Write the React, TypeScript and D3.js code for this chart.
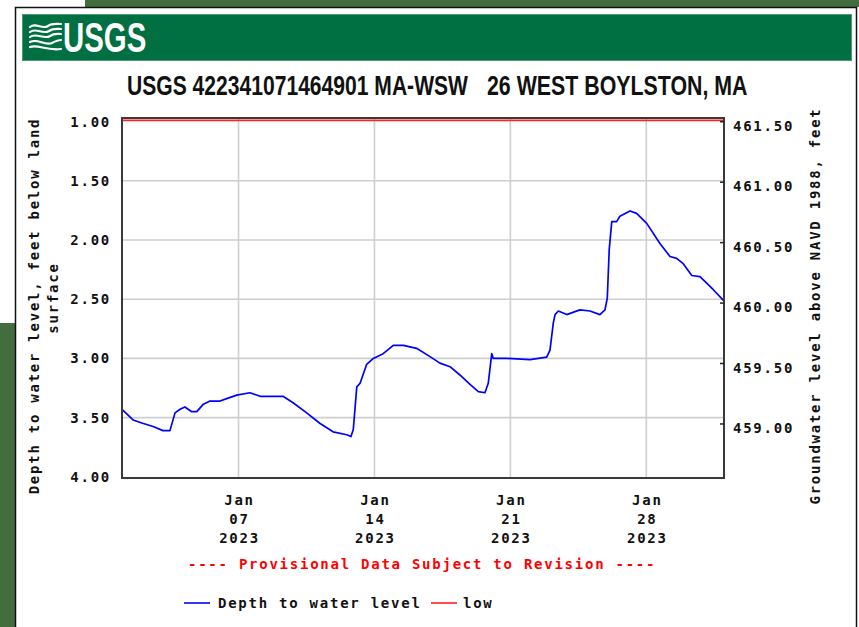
import React from 'react';
import * as d3 from 'd3';

// ---- data ----
const dayOffsets = [
  0.0, 0.57, 1.1, 1.6, 2.11, 2.47, 2.73, 2.99, 3.24, 3.59, 3.85, 4.17, 4.53, 5.05, 5.39, 5.91,
  6.59, 7.11, 8.29, 8.81, 9.51, 10.2, 10.87, 11.57, 11.79, 11.91, 12.09, 12.26, 12.6, 12.94,
  13.45, 13.97, 14.49, 15.17, 15.86, 16.37, 16.89, 17.4, 17.92, 18.35, 18.69, 18.86, 19.04,
  19.12, 19.81, 21.01, 21.87, 22.04, 22.21, 22.3, 22.47, 22.9, 23.58, 24.1, 24.61, 24.87,
  24.99, 25.09, 25.22, 25.47, 25.64, 26.16, 26.5, 27.02, 27.7, 28.22, 28.56, 28.9, 29.34,
  29.76, 30.11, 30.45, 30.97,
];
const depthValues = [
  3.43, 3.52, 3.55, 3.575, 3.61, 3.61, 3.46, 3.43, 3.41, 3.45, 3.45, 3.39, 3.36, 3.36, 3.34, 3.31,
  3.29, 3.32, 3.32, 3.375, 3.46, 3.55, 3.62, 3.645, 3.66, 3.6, 3.24, 3.21, 3.05, 3.0,
  2.96, 2.89, 2.89, 2.915, 2.985, 3.04, 3.07, 3.14, 3.22, 3.28, 3.29, 3.21, 2.96,
  3.0, 3.0, 3.01, 2.99, 2.93, 2.7, 2.63, 2.6, 2.63, 2.59, 2.6, 2.63, 2.59,
  2.49, 2.08, 1.845, 1.845, 1.8, 1.755, 1.775, 1.86, 2.03, 2.14, 2.155, 2.2, 2.3,
  2.31, 2.365, 2.42, 2.51,
];
const lowDepth = 0.99;
const leftTicks = [1.0, 1.5, 2.0, 2.5, 3.0, 3.5, 4.0];
const rightTicks = [461.5, 461.0, 460.5, 460.0, 459.5, 459.0];
const xTickDays = ['2023-01-07', '2023-01-14', '2023-01-21', '2023-01-28'];

const titlePart1 = 'USGS 422341071464901 MA-WSW';
const titlePart2 = '26 WEST BOYLSTON, MA';
const leftTitle1 = 'Depth to water level, feet below land';
const leftTitle2 = 'surface';
const rightTitle = 'Groundwater level above NAVD 1988, feet';
const provisionalText = '---- Provisional Data Subject to Revision ----';
const legendLabels = ['Depth to water level', 'low'];

const W = 859;
const H = 627;
const PL = 122, PR = 724, PT = 118, PB = 478;

const mono = "'DejaVu Sans Mono', monospace";
const monoStyle: React.CSSProperties = { letterSpacing: '1.75px' };

export default function App() {
  const start = new Date(2023, 0, 1);
  const end = new Date(2023, 1, 1);
  const x = d3.scaleTime().domain([start, end]).range([PL, PR]);
  const yL = d3.scaleLinear().domain([0.97, 4.01]).range([PT, PB]);
  const yR = d3.scaleLinear().domain([461.531, 458.553]).range([PT, PB]);

  const pts = dayOffsets.map((d, i) => ({
    t: new Date(start.getTime() + d * 86400000),
    v: depthValues[i],
  }));
  const line = d3
    .line<{ t: Date; v: number }>()
    .x((p) => x(p.t))
    .y((p) => yL(p.v));

  const xTicks = xTickDays.map((s) => {
    const [yy, mm, dd] = s.split('-').map(Number);
    return new Date(yy, mm - 1, dd);
  });
  const fmtMon = d3.timeFormat('%b');
  const fmtDay = d3.timeFormat('%d');
  const fmtYear = d3.timeFormat('%Y');

  const lowY = yL(lowDepth);

  return (
    <svg
      width={W}
      height={H}
      viewBox={`0 0 ${W} ${H}`}
      style={{ position: 'absolute', left: 0, top: 0 }}
    >
      {/* page background */}
      <rect x={0} y={0} width={W} height={H} fill="#ffffff" />
      <rect x={85} y={0} width={W - 85} height={7} fill="#436c3f" />
      <rect x={0} y={323} width={15} height={H - 323} fill="#436c3f" />
      {/* card */}
      <rect x={15.5} y={7.5} width={841} height={H + 10} fill="#ffffff" stroke="#111" strokeWidth={1.5} />

      {/* banner */}
      <rect x={22.5} y={14.5} width={829} height={46} fill="#006f41" stroke="#4f9a70" strokeWidth={1} />
      <g fill="none" stroke="#ffffff" strokeWidth={2.2} strokeLinecap="round">
        <path d="M30,27 C36,22 42,30 48,26 C52,23 56,24 61,24" />
        <path d="M30,32 C36,27 43,35 49,31 C53,28 57,29 61,29" />
        <path d="M30,37 C36,32 44,40 50,36 C54,33 58,34 61,34" />
        <path d="M30,42 C38,38 44,46 52,43 C56,41 59,40 61,40" />
        <path d="M30,47 C38,44 46,51 61,49" />
      </g>
      <text
        transform="translate(63,52) scale(0.7,1)"
        fontFamily="'Liberation Sans', Arial, sans-serif"
        fontWeight="bold"
        fontSize={42}
        fill="#ffffff"
      >
        USGS
      </text>

      {/* title */}
      <g fontFamily="'Liberation Sans', Arial, sans-serif" fontWeight="bold" fontSize={27} fill="#111">
        <text transform="translate(127,95) scale(0.781,1)">{titlePart1}</text>
        <text transform="translate(487,95) scale(0.791,1)">{titlePart2}</text>
      </g>

      {/* grid */}
      <g stroke="#cfcfcf" strokeWidth={1.6}>
        {leftTicks.slice(1, -1).map((t) => (
          <line key={t} x1={PL} x2={PR} y1={yL(t)} y2={yL(t)} />
        ))}
        {xTicks.map((t, i) => (
          <line key={i} x1={x(t)} x2={x(t)} y1={PT} y2={PB} />
        ))}
      </g>

      {/* low line */}
      <line x1={PL} x2={PR} y1={lowY} y2={lowY} stroke="#ff2020" strokeWidth={1.6} />

      {/* data line */}
      <path d={line(pts) || ''} fill="none" stroke="#0000ff" strokeWidth={1.7} strokeLinejoin="round" />

      {/* frame */}
      <rect x={PL} y={PT} width={PR - PL} height={PB - PT} fill="none" stroke="#3a3a3a" strokeWidth={2} />

      {/* right ticks */}
      <g stroke="#222" strokeWidth={1.5}>
        {rightTicks.map((t) => (
          <line key={t} x1={PR - 4} x2={PR} y1={yR(t)} y2={yR(t)} />
        ))}
      </g>

      {/* left tick labels */}
      <g fontFamily={mono} fontWeight="bold" fontSize={14} fill="#111" style={monoStyle}>
        {leftTicks.map((t) => (
          <text key={t} x={111} y={yL(t) + 5} textAnchor="end">
            {t.toFixed(2)}
          </text>
        ))}
      </g>
      {/* right tick labels */}
      <g fontFamily={mono} fontWeight="bold" fontSize={14} fill="#111" style={monoStyle}>
        {rightTicks.map((t) => (
          <text key={t} x={733} y={yR(t) + 9}>
            {t.toFixed(2)}
          </text>
        ))}
      </g>

      {/* x tick labels */}
      <g fontFamily={mono} fontWeight="bold" fontSize={14} fill="#111" style={monoStyle} textAnchor="middle">
        {xTicks.map((t, i) => (
          <g key={i}>
            <text x={x(t) + 1} y={505}>{fmtMon(t)}</text>
            <text x={x(t) + 1} y={524}>{fmtDay(t)}</text>
            <text x={x(t) + 1} y={543}>{fmtYear(t)}</text>
          </g>
        ))}
      </g>

      {/* axis titles */}
      <g fontFamily={mono} fontWeight="bold" fontSize={14} fill="#111" style={monoStyle} textAnchor="middle">
        <text transform="translate(39,306) rotate(-90)">{leftTitle1}</text>
        <text transform="translate(58,298) rotate(-90)">{leftTitle2}</text>
        <text transform="translate(820,306) rotate(-90)">{rightTitle}</text>
      </g>

      {/* provisional note */}
      <text
        x={188}
        y={569}
        fontFamily={mono}
        fontWeight="bold"
        fontSize={14}
        fill="#ff0000"
        style={monoStyle}
      >
        {provisionalText}
      </text>

      {/* legend */}
      <line x1={184} x2={210} y1={603} y2={603} stroke="#0000ff" strokeWidth={1.6} />
      <text x={218} y={608} fontFamily={mono} fontWeight="bold" fontSize={14} fill="#111" style={monoStyle}>
        {legendLabels[0]}
      </text>
      <line x1={431} x2={457} y1={603} y2={603} stroke="#ff2020" strokeWidth={1.6} />
      <text x={463} y={608} fontFamily={mono} fontWeight="bold" fontSize={14} fill="#111" style={monoStyle}>
        {legendLabels[1]}
      </text>
    </svg>
  );
}
